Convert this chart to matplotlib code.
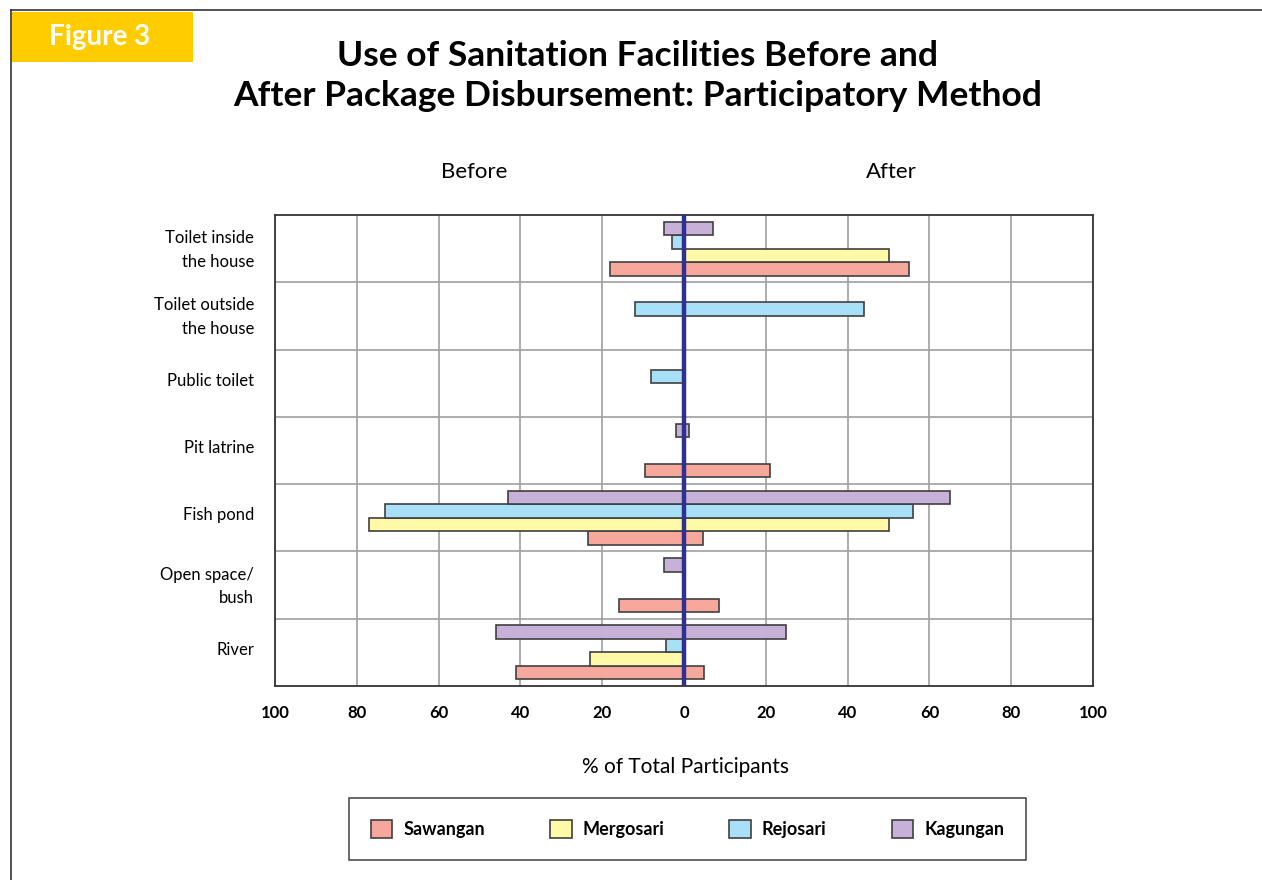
import matplotlib.pyplot as plt
import numpy as np
from matplotlib.lines import Line2D
from matplotlib.patches import Rectangle, Patch

plt.rcParams['font.family'] = ['Lato', 'DejaVu Sans']

categories = ['Toilet inside\nthe house', 'Toilet outside\nthe house', 'Public toilet',
              'Pit latrine', 'Fish pond', 'Open space/\nbush', 'River']
villages = ['Sawangan', 'Mergosari', 'Rejosari', 'Kagungan']
colors = ['#F7A89C', '#FFF9A8', '#A8E0F8', '#C7B1D8']

# % of participants, per category (top to bottom)
before = {
    'Sawangan':  [18, 0, 0, 9.5, 23.5, 16, 41],
    'Mergosari': [0, 0, 0, 0, 77, 0, 23],
    'Rejosari':  [3, 12, 8, 0, 73, 0, 4.5],
    'Kagungan':  [5, 0, 0, 2, 43, 5, 46],
}
after = {
    'Sawangan':  [55, 0, 0, 21, 4.7, 8.5, 5],
    'Mergosari': [50, 0, 0, 0, 50, 0, 0],
    'Rejosari':  [0, 44, 0, 0, 56, 0, 0],
    'Kagungan':  [7, 0, 0, 1.2, 65, 0, 25],
}
xticks = [-100, -80, -60, -40, -20, 0, 20, 40, 60, 80, 100]

fig = plt.figure(figsize=(12.62, 8.8), dpi=100)
ax = fig.add_axes([275/1262, 1-686/880, (1093-275)/1262, (686-215)/880])

n = len(categories)
ypos = np.arange(n)[::-1]
offsets = {'Sawangan': -0.3, 'Mergosari': -0.1, 'Rejosari': 0.1, 'Kagungan': 0.3}
for v, c in zip(villages, colors):
    b = np.array(before[v])
    a = np.array(after[v])
    mask_b = b > 0
    mask_a = a > 0
    ax.barh(ypos[mask_b] + offsets[v], -b[mask_b], height=0.2, color=c,
            edgecolor='#404040', linewidth=1.2, zorder=3)
    ax.barh(ypos[mask_a] + offsets[v], a[mask_a], height=0.2, color=c,
            edgecolor='#404040', linewidth=1.2, zorder=3)

ax.axvline(0, color='#2E3192', linewidth=3.2, zorder=4)

ax.set_xlim(-100, 100)
ax.set_ylim(-0.5, n - 0.5)
ax.set_xticks(xticks)
ax.set_xticklabels([str(abs(t)) for t in xticks], fontsize=12, fontweight='bold')
ax.set_yticks(ypos + 0.06)
ax.set_yticklabels(categories, fontsize=12, linespacing=1.6)
ax.set_yticks(np.arange(n - 1) + 0.5, minor=True)
ax.tick_params(axis='both', which='both', length=0)
ax.tick_params(axis='x', pad=14)
ax.tick_params(axis='y', pad=15)
ax.grid(True, axis='x', which='major', color='#A0A0A0', linewidth=1.2, zorder=0)
ax.grid(True, axis='y', which='minor', color='#A0A0A0', linewidth=1.2, zorder=0)
for s in ax.spines.values():
    s.set_color('#333333')
    s.set_linewidth(1.3)

fig.text(685/1262, 1-767/880, '% of Total Participants', ha='center', va='center', fontsize=15)
fig.text(474/1262, 1-172/880, 'Before', ha='center', va='center', fontsize=16)
fig.text(891/1262, 1-172/880, 'After', ha='center', va='center', fontsize=16)

fig.text(638/1262, 1-76/880, 'Use of Sanitation Facilities Before and\nAfter Package Disbursement: Participatory Method',
         ha='center', va='center', fontsize=25.5, fontweight='bold', linespacing=1.3)

# Figure tag and frame
fig.add_artist(Rectangle((12/1262, 1-62/880), 181/1262, 50/880, transform=fig.transFigure,
                         facecolor='#FFCC00', edgecolor='none'))
fig.text(100/1262, 1-37/880, 'Figure 3', ha='center', va='center', fontsize=20,
         fontweight='bold', color='white')
fig.add_artist(Line2D([11/1262, 1], [1-10/880, 1-10/880], transform=fig.transFigure,
                      color='#333333', linewidth=1.2))
fig.add_artist(Line2D([11/1262, 11/1262], [0, 1-10/880], transform=fig.transFigure,
                      color='#333333', linewidth=1.2))

handles = [Patch(facecolor=c, edgecolor='#404040', linewidth=1.2, label=v)
           for v, c in zip(villages, colors)]
leg = fig.legend(handles=handles, loc='center', ncol=4, mode='expand',
                 bbox_to_anchor=(340/1262, 1-862/880, (1035-340)/1262, 66/880),
                 frameon=True, fancybox=False, fontsize=13, handlelength=1.2,
                 handleheight=1.2, borderpad=1.2, handletextpad=0.6)
leg.get_frame().set_edgecolor('#222222')
leg.get_frame().set_linewidth(1.2)
for t in leg.get_texts():
    t.set_fontweight('bold')

fig.savefig('out.png', dpi=100)
